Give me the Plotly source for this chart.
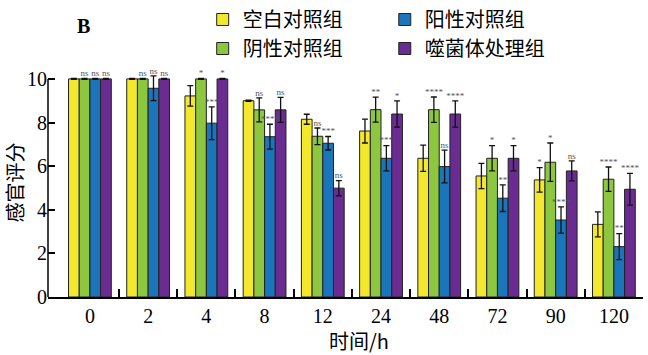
import plotly.graph_objects as go

times = ["0", "2", "4", "8", "12", "24", "48", "72", "90", "120"]

series_names = ["空白对照组", "阴性对照组", "阳性对照组", "噬菌体处理组"]
series_colors = ["#F3E82C", "#8DC63F", "#1B75BB", "#6A2C90"]

blank = [10.0, 10.0, 9.22, 9.0, 8.15, 7.61, 6.36, 5.55, 5.37, 3.33]
blank_err = [0.02, 0.02, 0.47, 0.03, 0.23, 0.55, 0.60, 0.58, 0.56, 0.57]
blank_sig = ["", "", "", "", "", "", "", "", "*", ""]

negative = [10.0, 10.0, 10.0, 8.58, 7.37, 8.59, 8.59, 6.36, 6.18, 5.40]
negative_err = [0.02, 0.02, 0.02, 0.55, 0.38, 0.57, 0.58, 0.58, 0.88, 0.56]
negative_sig = ["ns", "ns", "*", "ns", "ns", "**", "****", "*", "*", "****"]

positive = [10.0, 9.57, 7.97, 7.35, 7.05, 6.36, 5.98, 4.53, 3.53, 2.31]
positive_err = [0.02, 0.57, 0.75, 0.57, 0.31, 0.58, 0.75, 0.61, 0.60, 0.60]
positive_sig = ["ns", "ns", "***", "****", "***", "***", "ns", "**", "****", "**"]

phage = [10.0, 10.0, 10.0, 8.58, 4.99, 8.39, 8.39, 6.36, 5.78, 4.94]
phage_err = [0.02, 0.02, 0.02, 0.57, 0.35, 0.60, 0.60, 0.58, 0.46, 0.73]
phage_sig = ["ns", "ns", "*", "ns", "ns", "*", "****", "*", "ns", "****"]

values = [blank, negative, positive, phage]
errors = [blank_err, negative_err, positive_err, phage_err]
sigs = [blank_sig, negative_sig, positive_sig, phage_sig]
legend_ids = ["legend", "legend", "legend2", "legend2"]

yticks = [0, 2, 4, 6, 8, 10]

FONT = "Liberation Serif, 'Times New Roman', 'Noto Sans CJK SC', serif"
CJK = "'Noto Sans CJK SC', sans-serif"

xpos = list(range(len(times)))
fig = go.Figure()

for i in range(4):
    fig.add_trace(go.Bar(
        x=xpos, y=values[i], name=series_names[i],
        marker=dict(color=series_colors[i], line=dict(color="#222222", width=1)),
        error_y=dict(type="data", array=errors[i], visible=True,
                     color="#111111", thickness=1.3, width=3),
        offsetgroup=str(i), legend=legend_ids[i],
    ))

for i in range(4):
    tops = [v + e for v, e in zip(values[i], errors[i])]
    fig.add_trace(go.Scatter(
        x=xpos, y=tops, mode="text", text=sigs[i],
        textposition="top center",
        textfont=dict(size=9, color="#555555", family=FONT),
        offsetgroup=str(i), showlegend=False, cliponaxis=False,
        hoverinfo="skip",
    ))

# boundary ticks trace on secondary axis (invisible)
fig.add_trace(go.Scatter(x=[0], y=[0], xaxis="x2", mode="markers",
                         marker=dict(opacity=0), showlegend=False, hoverinfo="skip"))

xr = [-0.72, 9.5]
fig.update_layout(
    width=648, height=355,
    margin=dict(l=48, r=5, t=68, b=58, autoexpand=False),
    plot_bgcolor="white", paper_bgcolor="white",
    barmode="group", bargap=0.265, bargroupgap=0,
    scattermode="group", scattergap=0.265,
    font=dict(family=FONT, size=20, color="black"),
    xaxis=dict(range=xr, tickmode="array", tickvals=xpos, ticktext=times,
               ticks="", showline=True, linecolor="black", linewidth=1.5,
               showgrid=False, zeroline=False, tickfont=dict(size=20, family=FONT),
               automargin=False),
    xaxis2=dict(range=xr, overlaying="x", anchor="y", side="bottom",
                tickmode="array", tickvals=[k + 0.5 for k in xpos],
                ticks="inside", ticklen=8, tickwidth=1.5, tickcolor="black",
                showticklabels=False, showgrid=False, zeroline=False, showline=False,
                automargin=False),
    yaxis=dict(range=[0, 10.5], tickmode="array", tickvals=yticks,
               ticks="inside", ticklen=7, tickwidth=1.5, tickcolor="black",
               showline=False, showgrid=False, zeroline=False, automargin=False,
               tickfont=dict(size=20, family=FONT),
               title=dict(text="感官评分", font=dict(size=20, family=CJK), standoff=4)),
    legend=dict(x=0.26, y=1.297, xanchor="left", yanchor="top",
                bgcolor="rgba(0,0,0,0)", tracegroupgap=0, itemwidth=30,
                font=dict(size=20, family=CJK)),
    legend2=dict(x=0.566, y=1.297, xanchor="left", yanchor="top",
                 bgcolor="rgba(0,0,0,0)", tracegroupgap=0, itemwidth=30,
                 font=dict(size=20, family=CJK)),
    showlegend=True,
)

fig.add_shape(type="line", xref="paper", yref="y", x0=0, x1=0, y0=0, y1=10,
              line=dict(color="black", width=1.5))

fig.add_annotation(text="<b>B</b>", xref="paper", yref="paper", x=0.059, y=1.183,
                   xanchor="center", yanchor="middle",
                   showarrow=False, font=dict(size=20, family=FONT))
fig.add_annotation(text="时间/h", xref="paper", yref="paper", x=0.523, y=-0.188,
                   xanchor="center", yanchor="middle",
                   showarrow=False, font=dict(size=20, family=CJK))

fig.write_html("out.html", config={"displayModeBar": False},
               post_script="document.body.style.margin='0';document.body.style.padding='0';")
